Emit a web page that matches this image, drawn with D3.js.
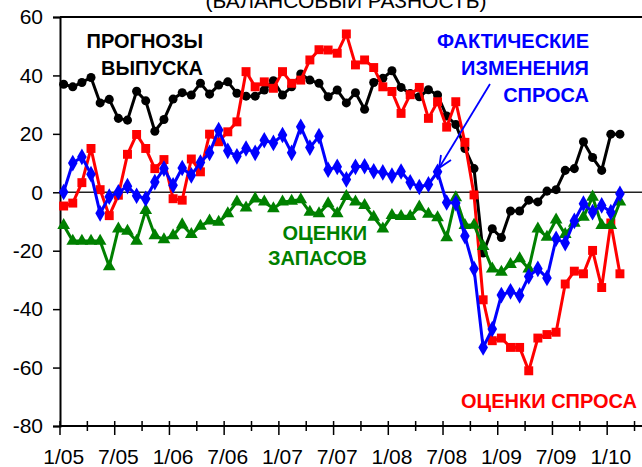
<!DOCTYPE html>
<html><head><meta charset="utf-8">
<script src="https://cdn.jsdelivr.net/npm/d3@7/dist/d3.min.js"></script>
<style>
html,body{margin:0;padding:0;background:#fff;}
svg{display:block;font-family:"Liberation Sans",Arial,sans-serif;}
</style></head>
<body>
<svg id="c" width="642" height="467"></svg>
<script>
const xLabels = ["1/05","7/05","1/06","7/06","1/07","7/07","1/08","7/08","1/09","7/09","1/10"];
const yTicks = [60,40,20,0,-20,-40,-60,-80];

const outputForecast = [37.0,36.1,37.6,39.3,30.6,31.8,25.3,24.7,34.6,31.3,20.9,24.9,31.9,34.1,33.3,37.3,
 33.6,36.7,37.8,33.9,32.9,32.9,35.0,38.2,33.3,36.1,40.5,38.4,37.3,32.7,35.0,30.6,34.1,28.4,37.6,39.0,
 41.6,35.9,33.8,32.7,35.1,33.3,26.1,23.2,15.0,8.1,-20.8,-12.5,-15.5,-6.4,-6.4,-2.7,-3.3,0.4,0.9,7.5,
 8.1,17.3,11.9,7.5,19.9,19.9];
const demandAssess = [-4.7,-3.7,3.3,15.0,0.9,-8.0,-1.0,13.0,19.8,15.0,8.1,11.2,-2.2,-2.7,11.4,7.0,
 19.9,17.3,20.7,24.1,41.3,36.1,37.8,35.6,41.3,37.3,38.4,45.3,48.8,48.7,47.6,54.2,43.6,45.3,42.7,36.1,
 34.5,27.0,33.4,35.9,25.3,31.0,22.3,31.0,17.1,-0.9,-36.8,-50.8,-49.9,-53.1,-53.1,-61.1,-49.9,-48.7,-47.9,-31.4,
 -27.0,-27.9,-19.9,-32.6,-10.5,-27.9];
const demandActual = [0.1,10.0,12.1,6.2,-7.2,-1.5,0.0,2.1,-1.2,-2.2,3.5,8.1,2.4,8.3,5.8,10.2,
 13.5,21.3,14.2,12.3,15.0,13.5,17.8,16.9,19.6,13.5,22.4,15.3,19.2,7.7,8.7,4.4,8.7,8.9,7.2,6.8,
 5.7,7.1,3.4,1.8,2.7,7.0,-3.5,-3.7,-15.0,-26.2,-53.1,-46.8,-35.2,-33.9,-35.3,-28.8,-26.2,-29.3,-15.9,-17.4,
 -9.8,-3.9,-6.8,-4.5,-6.8,-0.5];
const stocksAssess = [-11.3,-16.7,-16.7,-16.7,-16.7,-25.4,-12.5,-13.3,-16.7,-6.2,-14.8,-16.2,-14.8,-11.1,-14.4,-11.6,
 -9.8,-10.2,-7.3,-3.3,-5.3,-2.2,-3.3,-5.6,-3.3,-3.0,-2.5,-6.8,-7.3,-3.9,-7.3,-1.4,-3.3,-4.5,-8.5,-12.5,
 -7.9,-8.2,-8.2,-5.0,-7.5,-8.7,-15.5,-1.8,-11.3,-11.2,-18.5,-26.2,-27.3,-24.7,-22.7,-26.2,-12.5,-15.3,-9.4,-14.4,
 -10.5,-8.5,-1.6,-11.3,-11.3,-3.3];

const svg = d3.select("#c");
const L = 60, R = 640, T = 17, B = 426;
const x = d3.scaleLinear().domain([0, 63.6]).range([L, R]);
const y = d3.scaleLinear().domain([-80, 60]).range([B, T]);
const px = i => x(i + 0.4);

// title (cut at top)
svg.append("text").attr("x", 346).attr("y", 8).attr("text-anchor","middle")
  .attr("font-size", 21).attr("fill","#000").text("(БАЛАНСОВЫЙ РАЗНОСТЬ)");

// frame top
svg.append("line").attr("x1", L).attr("x2", 642).attr("y1", T).attr("y2", T)
  .attr("stroke","#000").attr("stroke-width",2);

// zero line
svg.append("line").attr("x1", L).attr("x2", 642).attr("y1", y(0)).attr("y2", y(0))
  .attr("stroke","#222").attr("stroke-width",1.5);

// y axis
const yAxis = d3.axisLeft(y).tickValues(yTicks).tickSize(7).tickPadding(10).tickFormat(d3.format("d"));
const ya = svg.append("g").attr("transform",`translate(${L},0)`).call(yAxis);
ya.select(".domain").attr("stroke","#000").attr("stroke-width",2);
ya.selectAll(".tick line").attr("stroke","#000").attr("stroke-width",1.5);
ya.selectAll(".tick text").attr("font-size",21).attr("fill","#000")
  .attr("font-family","Liberation Sans, Arial, sans-serif").text(d => d < 0 ? "-" + Math.abs(d) : d);

// x axis
svg.append("line").attr("x1", L).attr("x2", 642).attr("y1", B).attr("y2", B)
  .attr("stroke","#000").attr("stroke-width",2);
const tickIdx = d3.range(0, 22);
svg.append("g").selectAll("line").data(tickIdx).join("line")
  .attr("x1", k => x(3*k)).attr("x2", k => x(3*k))
  .attr("y1", B - 5).attr("y2", k => k % 2 === 0 ? B + 9 : B + 5)
  .attr("stroke","#000").attr("stroke-width",1.5);
svg.append("g").selectAll("text").data(xLabels).join("text")
  .attr("x", (d,i) => x(6*i + 0.4)).attr("y", 464).attr("text-anchor","middle")
  .attr("font-size",21).attr("fill","#000").text(d => d);

// series
const line = d3.line().x((d,i) => px(i)).y(d => y(d));
const series = [
  {data: outputForecast, color: "#000000", sym: d3.symbolCircle, size: 64},
  {data: demandAssess, color: "#ff0000", sym: d3.symbolSquare, size: 80},
  {data: stocksAssess, color: "#008000", sym: d3.symbolTriangle, size: 70},
  {data: demandActual, color: "#0000ff", sym: d3.symbolDiamond, size: 80},
];
series.forEach(s => {
  const g = svg.append("g");
  g.append("path").attr("d", line(s.data)).attr("fill","none")
    .attr("stroke", s.color).attr("stroke-width",3).attr("stroke-linejoin","round");
  g.selectAll("path.m").data(s.data).join("path").attr("class","m")
    .attr("transform",(d,i) => `translate(${px(i)},${y(d)})`)
    .attr("d", d3.symbol().type(s.sym).size(s.size)).attr("fill", s.color);
});

// annotations
function label(lines, xx, ys, anchor, color) {
  lines.forEach((t, k) => svg.append("text").attr("x", xx).attr("y", ys[k])
    .attr("text-anchor", anchor).attr("font-size", 20).attr("font-weight","bold")
    .attr("fill", color).text(t));
}
label(["ПРОГНОЗЫ","ВЫПУСКА"], 203, [48, 75], "end", "#000");
label(["ФАКТИЧЕСКИЕ","ИЗМЕНЕНИЯ","СПРОСА"], 589, [48, 75, 102], "end", "#0000ff");
label(["ОЦЕНКИ","ЗАПАСОВ"], 367, [240, 265], "end", "#008000");
label(["ОЦЕНКИ СПРОСА"], 637, [408], "end", "#ff0000");

// arrow
svg.append("line").attr("x1",490).attr("y1",84).attr("x2",439).attr("y2",168)
  .attr("stroke","#0000ff").attr("stroke-width",1.8);
svg.append("path").attr("d","M441,155 L439,168 L451,160").attr("fill","none")
  .attr("stroke","#0000ff").attr("stroke-width",1.8);
</script>
</body></html>
